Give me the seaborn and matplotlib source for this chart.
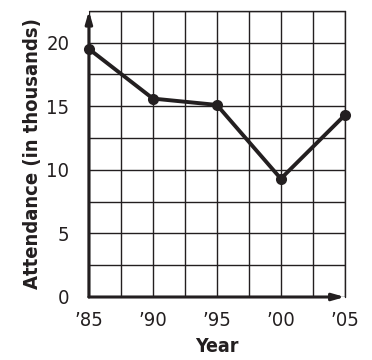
import numpy as np
import pandas as pd
import matplotlib
matplotlib.use("Agg")
import matplotlib.pyplot as plt
import seaborn as sns

# values
years = [1985, 1990, 1995, 2000, 2005]
attendance = [19.5, 15.6, 15.1, 9.3, 14.3]
year_labels = ["\u201985", "\u201990", "\u201995", "\u201900", "\u201905"]
y_ticks = [0, 5, 10, 15, 20]

df = pd.DataFrame({"Year": years, "Attendance": attendance})

sns.set_style("white")
plt.rcParams["font.family"] = ["DejaVu Sans"]
plt.rcParams["font.stretch"] = "condensed"

fig = plt.figure(figsize=(3.72, 3.6), dpi=100)
ax = fig.add_axes([0.239, 0.175, 0.688, 0.795])

sns.lineplot(data=df, x="Year", y="Attendance", ax=ax, color="#231f20",
             linewidth=2.8, marker="o", markersize=8, markeredgewidth=0,
             clip_on=False, zorder=5)

ax.set_xlim(1985, 2005)
ax.set_ylim(0, 22.5)
ax.set_xticks(np.arange(1985, 2005.1, 2.5), minor=True)
ax.set_yticks(np.arange(0, 22.6, 2.5), minor=True)
ax.set_xticks(years)
ax.set_xticklabels(year_labels)
ax.set_yticks(y_ticks)
ax.grid(True, which="both", color="#231f20", linewidth=1.0)
ax.tick_params(which="both", length=0, labelsize=14.5, colors="#231f20")
ax.tick_params(axis="y", pad=14)
ax.tick_params(axis="x", pad=10)

for s in ax.spines.values():
    s.set_visible(False)
ax.plot([2005, 2005], [0, 22.5], color="#231f20", lw=1.0, clip_on=False)
ax.plot([1985, 2005], [22.5, 22.5], color="#231f20", lw=1.0, clip_on=False)

# axis arrows
ax.annotate("", xy=(0, 1), xytext=(0, 0), xycoords="axes fraction",
            arrowprops=dict(arrowstyle="-|>,head_length=0.7,head_width=0.2",
                            color="#231f20", lw=2.2, shrinkA=0, shrinkB=0))
ax.annotate("", xy=(1, 0), xytext=(0, 0), xycoords="axes fraction",
            arrowprops=dict(arrowstyle="-|>,head_length=0.7,head_width=0.2",
                            color="#231f20", lw=2.2, shrinkA=0, shrinkB=0))

ax.set_xlabel("Year", fontsize=14, fontweight="bold", color="#231f20", labelpad=5)
ax.set_ylabel("Attendance (in thousands)", fontsize=14.5, fontweight="bold",
              color="#231f20", labelpad=3)

fig.savefig("out.png", dpi=100)
